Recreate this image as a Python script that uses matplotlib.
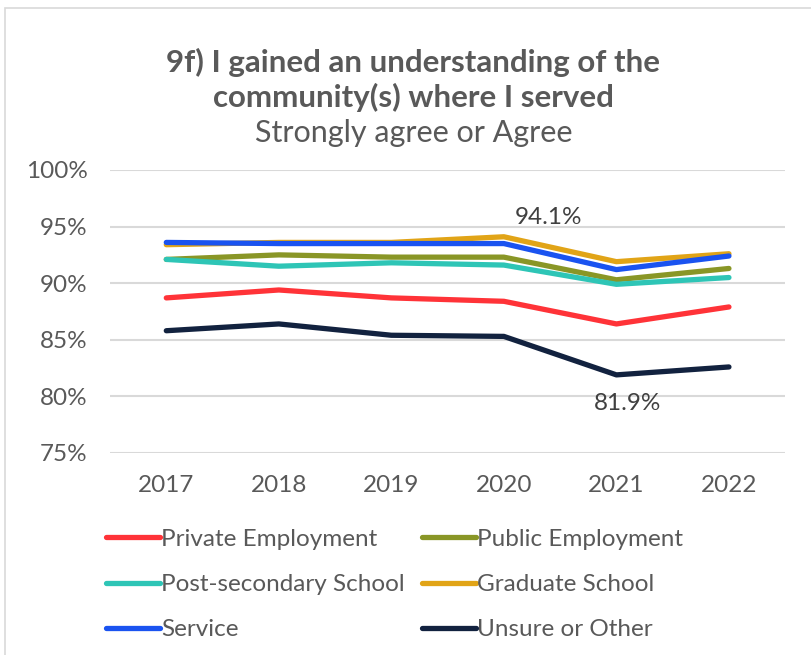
import matplotlib
matplotlib.use('Agg')
import matplotlib.pyplot as plt
from matplotlib.patches import Rectangle

plt.rcParams['font.family'] = ['Lato', 'DejaVu Sans']

years = [2017, 2018, 2019, 2020, 2021, 2022]
private = [88.7, 89.4, 88.7, 88.4, 86.4, 87.9]
public = [92.1, 92.5, 92.3, 92.3, 90.3, 91.3]
postsec = [92.1, 91.5, 91.8, 91.6, 89.9, 90.5]
graduate = [93.4, 93.6, 93.6, 94.1, 91.9, 92.6]
service = [93.6, 93.5, 93.5, 93.5, 91.2, 92.4]
unsure = [85.8, 86.4, 85.4, 85.3, 81.9, 82.6]

series = [
    ('Private Employment', private, '#FF3338'),
    ('Public Employment', public, '#899626'),
    ('Post-secondary School', postsec, '#2EC5B6'),
    ('Graduate School', graduate, '#E1A417'),
    ('Service', service, '#1A53F0'),
    ('Unsure or Other', unsure, '#12223F'),
]
yticks = [75, 80, 85, 90, 95, 100]

fig = plt.figure(figsize=(8.12, 6.55), dpi=100)
fig.patches.append(Rectangle((0.006, -0.01), 1.1, 0.998, transform=fig.transFigure,
                             fill=False, edgecolor='#D9D9D9', linewidth=1.2))
ax = fig.add_axes([0.1355, 0.3084, 0.8315, 0.4321])

lines = {}
for name, vals, color in series:
    ln, = ax.plot(years, vals, color=color, linewidth=3.8, label=name,
                  solid_capstyle='round', solid_joinstyle='round')
    lines[name] = ln

ax.set_xlim(2016.5, 2022.5)
ax.set_ylim(75, 100)
ax.set_yticks(yticks)
ax.set_yticklabels([f'{t}%' for t in yticks])
ax.set_xticks(years)
ax.yaxis.grid(True, color='#D9D9D9', linewidth=1.5)
ax.set_axisbelow(True)
for s in ax.spines.values():
    s.set_visible(False)
ax.tick_params(length=0, labelsize=17.5, colors='#595959')
ax.tick_params(axis='y', pad=16)
ax.tick_params(axis='x', pad=16)

ax.annotate(f'{graduate[3]:.1f}%', (years[3], graduate[3]), xytext=(32, 6),
            textcoords='offset points', ha='center', va='bottom',
            fontsize=17.5, color='#404040')
ax.annotate(f'{unsure[4]:.1f}%', (years[4], unsure[4]), xytext=(8, -13),
            textcoords='offset points', ha='center', va='top',
            fontsize=17.5, color='#404040')

fig.text(0.509, 0.878, '9f) I gained an understanding of the\ncommunity(s) where I served',
         ha='center', va='center', fontsize=22.5, fontweight='bold', color='#595959',
         linespacing=1.25)
fig.text(0.509, 0.797, 'Strongly agree or Agree', ha='center', va='center',
         fontsize=22, color='#595959')

order = ['Private Employment', 'Post-secondary School', 'Service',
         'Public Employment', 'Graduate School', 'Unsure or Other']
leg = fig.legend([lines[n] for n in order], order, ncol=2, loc='upper left',
                 bbox_to_anchor=(0.104, 0.226), frameon=False, fontsize=17.5,
                 handlelength=2.2, handletextpad=0.05, columnspacing=0.72,
                 labelspacing=1.0, labelcolor='#595959')

fig.savefig('out.png', dpi=100)
